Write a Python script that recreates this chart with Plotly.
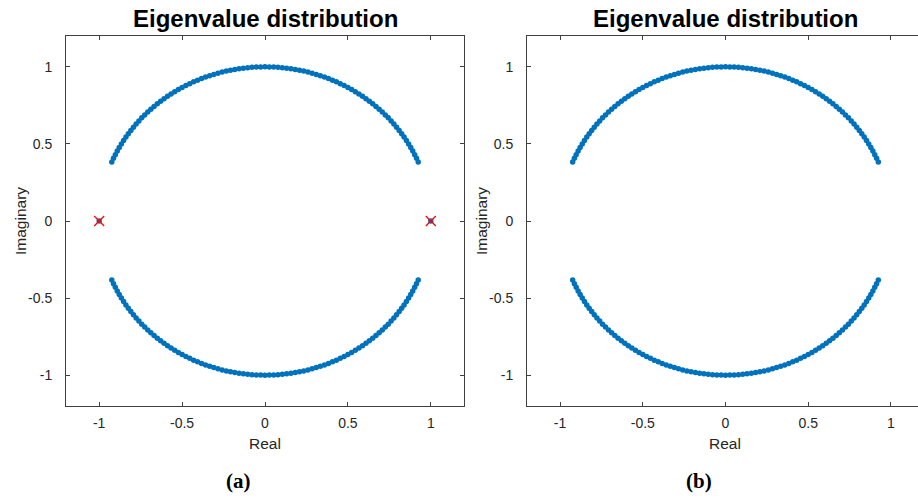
import numpy as np
import plotly.graph_objects as go

# Eigenvalue angles (degrees) on the upper half of the unit circle; lower half are conjugates
upper_angles_deg = [22.5, 24.0, 25.5, 27.0, 28.5, 30.0, 31.5, 33.0, 34.5, 36.0, 37.5, 39.0,
                    40.5, 42.0, 43.5, 45.0, 46.5, 48.0, 49.5, 51.0, 52.5, 54.0, 55.5, 57.0,
                    58.5, 60.0, 61.5, 63.0, 64.5, 66.0, 67.5, 69.0, 70.5, 72.0, 73.5, 75.0,
                    76.5, 78.0, 79.5, 81.0, 82.5, 84.0, 85.5, 87.0, 88.5, 90.0, 91.5, 93.0,
                    94.5, 96.0, 97.5, 99.0, 100.5, 102.0, 103.5, 105.0, 106.5, 108.0, 109.5,
                    111.0, 112.5, 114.0, 115.5, 117.0, 118.5, 120.0, 121.5, 123.0, 124.5,
                    126.0, 127.5, 129.0, 130.5, 132.0, 133.5, 135.0, 136.5, 138.0, 139.5,
                    141.0, 142.5, 144.0, 145.5, 147.0, 148.5, 150.0, 151.5, 153.0, 154.5,
                    156.0, 157.5]
# Real eigenvalues present only in panel (a)
real_eigs_a = [-1.0, 1.0]
# Marked (red x) eigenvalues in panel (a)
marked_re = [-1.0, 1.0]
marked_im = [0.0, 0.0]

tick_vals = [-1, -0.5, 0, 0.5, 1]
tick_text = ["-1", "-0.5", "0", "0.5", "1"]
panel_labels = ["(a)", "(b)"]
title_text = "Eigenvalue distribution"

th = np.deg2rad(np.array(upper_angles_deg))
arc_re = np.concatenate([np.cos(th), np.cos(th)])
arc_im = np.concatenate([np.sin(th), -np.sin(th)])

BLUE = "#0072BD"
AX = "#404040"
TXT = "#262626"
FONT = "Liberation Sans, Arial, sans-serif"

fig = go.Figure()
dot = dict(size=5.5, color=BLUE, line=dict(width=0))

# panel (a)
fig.add_trace(go.Scatter(x=list(arc_re) + real_eigs_a, y=list(arc_im) + [0.0] * len(real_eigs_a),
                         mode="markers", marker=dot, xaxis="x", yaxis="y", showlegend=False))
fig.add_trace(go.Scatter(x=marked_re, y=marked_im, mode="markers",
                         marker=dict(symbol="x-thin", size=10, color="#FF0000",
                                     line=dict(width=1.2, color="#FF0000")),
                         xaxis="x", yaxis="y", showlegend=False))
# panel (b)
fig.add_trace(go.Scatter(x=arc_re, y=arc_im, mode="markers", marker=dot,
                         xaxis="x2", yaxis="y2", showlegend=False))

W, H = 918, 502
T, B = 36, 96
PH = H - T - B


def py(ypx):
    return (H - B - ypx) / PH


axcommon = dict(showgrid=False, zeroline=False, showline=True, linecolor=AX, linewidth=1,
                ticks="inside", ticklen=4, tickcolor=AX, tickwidth=1,
                tickvals=tick_vals, ticktext=tick_text,
                tickfont=dict(family=FONT, size=14, color=TXT))

fig.update_layout(
    width=W, height=H, paper_bgcolor="white", plot_bgcolor="white",
    margin=dict(l=0, r=0, t=T, b=B),
    xaxis=dict(domain=[66 / W, 464 / W], range=[-1.2, 1.2], anchor="y", mirror="allticks",
               ticklabelstandoff=4, **axcommon),
    yaxis=dict(domain=[0, 1], range=[-1.2, 1.2], anchor="x", mirror="allticks",
               ticklabelstandoff=10, **axcommon),
    xaxis2=dict(domain=[527 / W, 1.0], range=[-1.2, 1.2 - 6 / 166], anchor="y2", mirror="allticks",
                ticklabelstandoff=4, **axcommon),
    yaxis2=dict(domain=[0, 1], range=[-1.2, 1.2], anchor="x2", mirror=False,
                ticklabelstandoff=10, **axcommon),
)

ann = []
for cx, ylab_x, plab_x, plab in [(265, 20, 238, panel_labels[0]), (725, 481, 699, panel_labels[1])]:
    ann.append(dict(x=cx / W, y=py(18), xref="paper", yref="paper", yanchor="middle",
                    xanchor="center", showarrow=False, text="<b>" + title_text + "</b>",
                    font=dict(family=FONT, size=24, color="black")))
    ann.append(dict(x=cx / W, y=py(443), xref="paper", yref="paper", yanchor="middle",
                    xanchor="center", showarrow=False, text="Real",
                    font=dict(family=FONT, size=15.5, color=TXT)))
    ann.append(dict(x=ylab_x / W, y=py(221), xref="paper", yref="paper", yanchor="middle",
                    xanchor="center", showarrow=False, text="Imaginary", textangle=-90,
                    font=dict(family=FONT, size=15.5, color=TXT)))
    ann.append(dict(x=plab_x / W, y=py(481), xref="paper", yref="paper", yanchor="middle",
                    xanchor="center", showarrow=False, text="<b>" + plab + "</b>",
                    font=dict(family="Liberation Serif, Times New Roman, serif", size=21,
                              color="black")))
fig.update_layout(annotations=ann)

fig.write_html("out.html")
